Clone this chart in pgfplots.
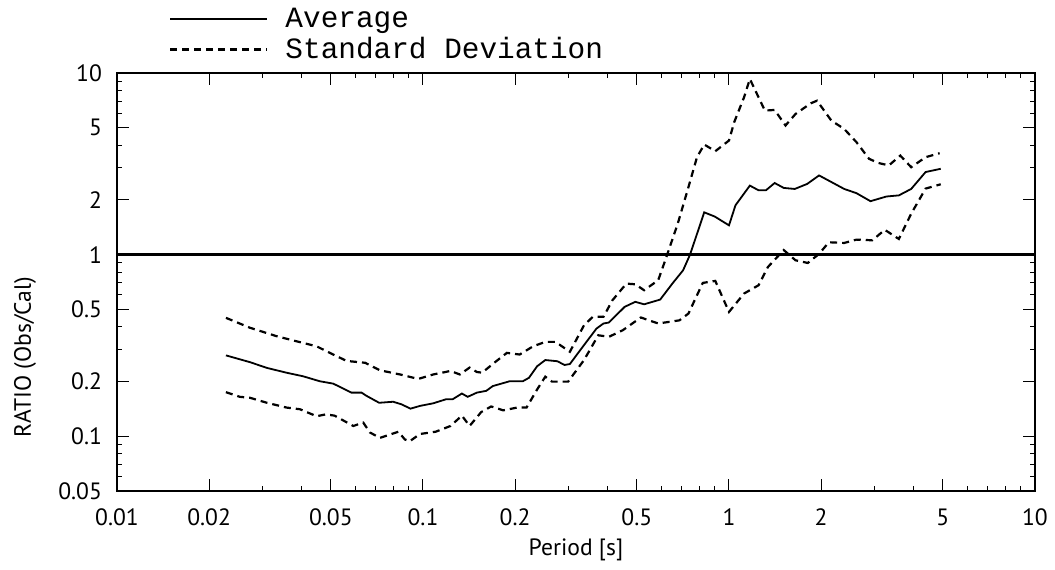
\documentclass[border=0pt]{standalone}
\usepackage{fontspec}
\setmainfont{PT Sans}
\newfontfamily\legfont{Liberation Mono}
\usepackage{pgfplots}
\pgfplotsset{compat=1.18}
\begin{document}
\begin{tikzpicture}
  \begin{axis}[
    xmode=log, ymode=log,
    scale only axis,
    width=459pt, height=209pt,
    xmin=0.01, xmax=10, ymin=0.05, ymax=10,
    xtick={0.01,0.02,0.05,0.1,0.2,0.5,1,2,5,10},
    xticklabels={0.01,0.02,0.05,0.1,0.2,0.5,1,2,5,10},
    ytick={0.05,0.1,0.2,0.5,1,2,5,10},
    yticklabels={0.05,0.1,0.2,0.5,1,2,5,10},
    minor xtick={0.03,0.04,0.06,0.07,0.08,0.09,0.3,0.4,0.6,0.7,0.8,0.9,3,4,6,7,8,9},
    minor ytick={0.06,0.07,0.08,0.09,0.3,0.4,0.6,0.7,0.8,0.9,3,4,6,7,8,9},
    tick align=inside,
    major tick length=6pt, minor tick length=2.5pt,
    every tick/.style={black, line width=0.5pt},
    axis line style={line width=1.3pt},
    ticklabel style={font=\fontsize{11.8}{13}\selectfont},
    xticklabel style={yshift=-5.5pt},
    yticklabel style={xshift=-4pt},
    xlabel={Period [s]},
    ylabel={RATIO (Obs/Cal)},
    label style={font=\fontsize{11.8}{13}\selectfont},
    xlabel style={at={(axis description cs:0.5,-0.141)}, anchor=center},
    ylabel style={at={(axis description cs:-0.100,0.32)}, anchor=center},
    legend style={
      draw=none, fill=none,
      at={(axis description cs:0.05,1.007)},
      anchor=south west,
      font=\legfont\fontsize{14.7}{16}\selectfont,
      row sep=-0.5pt,
      cells={anchor=west}},
    legend cell align=left,
    legend image code/.code={\draw[#1] (0pt,0pt) -- (48.5pt,0pt); \path (55pt,0pt);},
  ]
    % Average
    \addplot[black, line width=0.9pt] coordinates {
      (0.0227,0.279) (0.0272,0.256) (0.0309,0.238) (0.0358,0.224)
      (0.0406,0.214) (0.0460,0.201) (0.0509,0.195) (0.0584,0.174)
      (0.0630,0.174) (0.0654,0.167) (0.0719,0.153) (0.0799,0.155)
      (0.0851,0.150) (0.0910,0.142) (0.0977,0.147) (0.108,0.152)
      (0.119,0.160) (0.125,0.160) (0.134,0.172) (0.140,0.165)
      (0.150,0.174) (0.161,0.178) (0.169,0.189) (0.192,0.201)
      (0.212,0.201) (0.222,0.210) (0.236,0.243) (0.251,0.263)
      (0.275,0.259) (0.290,0.247) (0.302,0.250) (0.336,0.318)
      (0.369,0.392) (0.389,0.418) (0.405,0.423) (0.456,0.516)
      (0.494,0.550) (0.528,0.533) (0.596,0.566) (0.653,0.693)
      (0.708,0.820) (0.746,1.0) (0.830,1.71) (0.899,1.62)
      (1.0,1.45) (1.05,1.87) (1.17,2.40) (1.25,2.26) (1.32,2.26)
      (1.41,2.48) (1.51,2.33) (1.64,2.30) (1.80,2.45) (1.97,2.73)
      (2.38,2.30) (2.61,2.18) (2.90,1.97) (3.27,2.09) (3.59,2.12)
      (3.94,2.30) (4.39,2.85) (4.92,2.97)
    };
    % Average + standard deviation
    \addplot[black, line width=1.1pt, dash pattern=on 3.5pt off 2.5pt] coordinates {
      (0.0227,0.449) (0.0272,0.396) (0.0332,0.356) (0.0396,0.330)
      (0.0449,0.313) (0.0509,0.282) (0.0563,0.260) (0.0647,0.254)
      (0.0723,0.231) (0.0842,0.219) (0.0965,0.207) (0.108,0.219)
      (0.123,0.229) (0.132,0.219) (0.142,0.239) (0.150,0.226)
      (0.156,0.224) (0.174,0.260) (0.188,0.288) (0.207,0.282)
      (0.229,0.313) (0.251,0.331) (0.271,0.331) (0.302,0.292)
      (0.336,0.409) (0.359,0.455) (0.389,0.455) (0.416,0.561)
      (0.462,0.693) (0.494,0.687) (0.528,0.637) (0.587,0.723)
      (0.619,0.931) (0.680,1.48) (0.737,2.35) (0.786,3.44)
      (0.830,4.04) (0.902,3.71) (1.0,4.25) (1.04,5.36) (1.12,7.35)
      (1.17,9.27) (1.31,6.21) (1.41,6.26) (1.53,5.14) (1.65,5.95)
      (1.85,6.81) (1.94,7.04) (2.16,5.47) (2.38,4.92) (2.61,4.16)
      (2.87,3.37) (3.07,3.20) (3.33,3.10) (3.63,3.51) (3.94,3.03)
      (4.39,3.44) (4.88,3.62)
    };
    % Average - standard deviation
    \addplot[black, line width=1.1pt, dash pattern=on 3.5pt off 2.5pt, forget plot] coordinates {
      (0.0227,0.175) (0.0252,0.165) (0.0272,0.163) (0.0309,0.153)
      (0.0358,0.144) (0.0396,0.141) (0.0449,0.129) (0.0481,0.132)
      (0.0514,0.130) (0.0592,0.114) (0.0638,0.119) (0.0671,0.105)
      (0.0723,0.098) (0.0831,0.106) (0.0873,0.096) (0.0906,0.094)
      (0.0977,0.103) (0.110,0.106) (0.123,0.114) (0.134,0.130)
      (0.142,0.114) (0.155,0.136) (0.167,0.146) (0.183,0.139)
      (0.203,0.144) (0.218,0.144) (0.236,0.181) (0.251,0.213)
      (0.264,0.200) (0.298,0.200) (0.336,0.263) (0.374,0.360)
      (0.405,0.353) (0.450,0.384) (0.515,0.451) (0.587,0.418)
      (0.689,0.435) (0.737,0.474) (0.821,0.699) (0.902,0.717)
      (1.0,0.484) (1.12,0.611) (1.25,0.679) (1.34,0.855) (1.51,1.06)
      (1.65,0.931) (1.81,0.900) (1.97,1.01) (2.12,1.17) (2.38,1.16)
      (2.61,1.21) (2.94,1.20) (3.23,1.37) (3.59,1.22) (3.94,1.68)
      (4.39,2.31) (4.92,2.44)
    };
    % reference line at ratio 1
    \addplot[black, line width=1.3pt, forget plot] coordinates {(0.01,1) (10,1)};
    \legend{Average, Standard Deviation}
  \end{axis}
  \pgfresetboundingbox
  \path (-58.5pt,-39pt) rectangle (469pt,245.5pt);
\end{tikzpicture}
\end{document}
